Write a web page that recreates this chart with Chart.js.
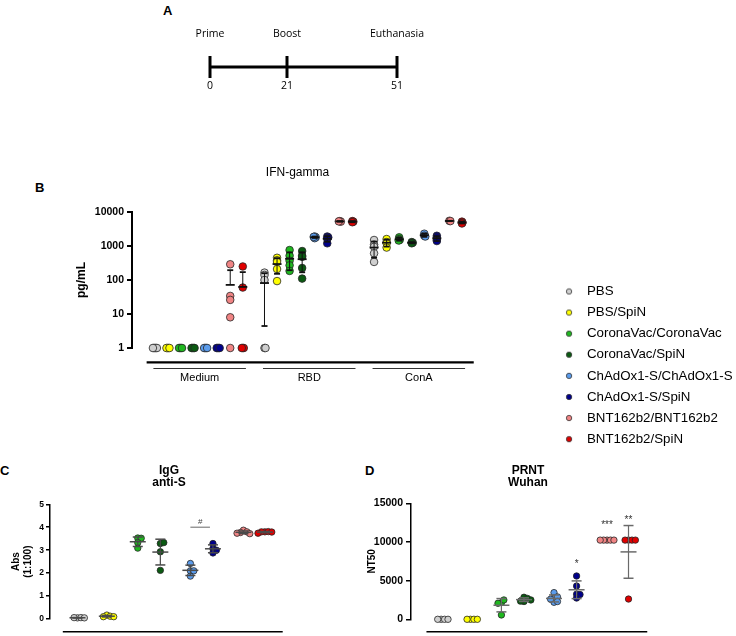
<!DOCTYPE html>
<html>
<head>
<meta charset="utf-8">
<title>Vaccine groups</title>
<script src="https://cdn.jsdelivr.net/npm/chart.js@4.4.1/dist/chart.umd.min.js"></script>
<style>
  html, body { margin:0; padding:0; background:#fff; }
  body { width:736px; height:636px; position:relative; overflow:hidden; }
  canvas { position:absolute; }
  .tag { position:absolute; font:bold 13px "Liberation Sans", Arial, sans-serif; line-height:13px; color:#000; }
</style>
</head>
<body>
<div class="tag" style="left:163px;top:4px">A</div>
<div class="tag" style="left:35px;top:181px">B</div>
<div class="tag" style="left:0px;top:464px">C</div>
<div class="tag" style="left:365px;top:464px">D</div>
<canvas id="cA" width="736" height="110" style="left:0;top:0"></canvas>
<canvas id="cB" width="480" height="240" style="left:0;top:160px"></canvas>
<canvas id="cL" width="420" height="200" style="left:550px;top:277px"></canvas>
<canvas id="cC" width="300" height="176" style="left:0;top:460px"></canvas>
<canvas id="cD" width="300" height="176" style="left:360px;top:460px"></canvas>
<script>
/***** data *****/
const GROUPS = ["PBS","PBS/SpiN","CoronaVac/CoronaVac","CoronaVac/SpiN",
  "ChAdOx1-S/ChAdOx1-S","ChAdOx1-S/SpiN","BNT162b2/BNT162b2","BNT162b2/SpiN"];
const COLORS = ["#cfcfcf","#ffff00","#1fb81f","#0b5a12","#5b9cec","#00008a","#f08484","#e00000"];

// A - timeline (days)
const TL_DAYS = [0, 21, 51];
const TL_EVENTS = ["Prime", "Boost", "Euthanasia"];

// B - IFN-gamma, pg/mL, one list per group
const STIMULI = ["Medium", "RBD", "ConA"];
const IFN_MEDIUM = [[1,1,1,1,1],[1,1,1,1],[1,1,1,1],[1,1,1,1],[1,1,1,1],[1,1,1,1],[290,34,26,8,1],[250,60,1,1,1]];
const IFN_RBD = [[165,140,100,1,1],[450,380,340,210,93],[760,520,370,270,185],[710,520,480,225,110],
  [1900,1800,1700,1850],[1900,1800,1650,1200],[5400,5200,5300],[5400,5200,5000]];
const IFN_CONA = [[1500,1100,950,610,340],[1600,1300,1200,900],[1800,1600,1500,1450],[1300,1250,1200],
  [2300,2000,1900],[2000,1800,1500,1400],[5500,5400],[5200,4900,4600]];
const IFN_TICKS = [1, 10, 100, 1000, 10000];

// C - IgG anti-S, Abs (1:100)
const IGG = [[0.05,0.06,0.06,0.05],[0.17,0.12,0.1,0.1],[3.53,3.52,3.33,3.09],[3.29,3.33,2.93,2.12],
  [2.42,1.87,2.1,2.1],[3.29,3.07,3.0,2.88],[3.87,3.80,3.77,3.74,3.72],[3.80,3.81,3.80,3.79,3.74]];
const IGG_TICKS = [0, 1, 2, 3, 4, 5];
const IGG_MARK = "#";          // between ChAdOx1-S/ChAdOx1-S and ChAdOx1-S/SpiN
const IGG_MARK_PAIR = [4, 5];
const IGG_MARK_Y = 4.0;

// D - PRNT Wuhan, NT50
const PRNT = [[0,0,0,0],[0,0,0,0],[2150,2500,2070,560],[2300,2850,2700,2350,2500],
  [2200,3450,2750,2900,2300,2600],[5600,4300,3250,3200,2750],
  [10240,10240,10240,10240,10240],[10240,10240,10240,10240,2620]];
const PRNT_TICKS = [0, 5000, 10000, 15000];
const PRNT_SIG = ["", "", "", "", "", "*", "***", "**"];
const PRNT_SIG_Y = [0, 0, 0, 0, 0, 7450, 12550, 13200];

/***** layout *****/
const FONT = '"Liberation Sans", Arial, sans-serif';
const B_BLOCK = 8.73;                       // gap between stimulus blocks (group units)
const B_UNIT = 12.6, B_C0 = 155;            // px per group, first group centre (px)
const GX = [0, 1.3, 2.67, 3.67, 5, 6, 7.35, 8.3];  // group centres in C and D
const CD_UNIT = 23;

/***** helpers *****/
function meanSd(a){
  const m = a.reduce((s,v)=>s+v,0)/a.length;
  const sd = a.length > 1 ? Math.sqrt(a.reduce((s,v)=>s+(v-m)**2,0)/(a.length-1)) : 0;
  return [m, sd];
}
// simple beeswarm: offsets (in x units) so dots do not sit on each other
function swarm(vals, toPx, minD, unit){
  const placed = [];
  return vals.map(v => {
    const y = toPx(v);
    let off = 0;
    for(let k = 0; k < 400; k++){
      const c = k === 0 ? 0 : (k % 2 ? 1 : -1) * Math.ceil(k/2) * 0.5;
      if(placed.every(p => Math.hypot(p.x - c, p.y - y) >= minD - 1e-6)){ off = c; break; }
    }
    placed.push({x: off, y});
    return off / unit;
  });
}
function buildSets(groups, xs, colors, cfg){
  const pts = [], whisk = [], caps = [], means = [];
  groups.forEach((vals, g) => {
    const offs = swarm(vals, cfg.toPx, cfg.minD, cfg.unit);
    pts.push({
      data: vals.map((v,i)=>({x: xs[g] + offs[i], y: v})),
      backgroundColor: colors[g], borderColor: "#262626", borderWidth: 0.8,
      pointRadius: cfg.r, pointHoverRadius: cfg.r, clip: false, order: 1
    });
    const [m, sd] = meanSd(vals);
    if(sd === 0) return;
    const hi = m + sd, lo = m - sd;
    const low = lo > cfg.floor ? lo : m;
    whisk.push({x: xs[g], y: low}, {x: xs[g], y: hi}, {x: xs[g], y: null});
    caps.push({x: xs[g], y: hi});
    if(lo > cfg.floor) caps.push({x: xs[g], y: lo});
    means.push({x: xs[g], y: m});
  });
  const b = cfg.bar;
  return pts.concat([
    { data: whisk, showLine: true, borderColor: b.color, borderWidth: b.w, pointRadius: 0, clip: false, order: 0 },
    { data: caps, pointStyle: "line", pointRadius: b.cap, borderColor: b.color, borderWidth: b.lw, clip: false, order: 0 },
    { data: means, pointStyle: "line", pointRadius: b.mean, borderColor: b.color, borderWidth: b.lw, clip: false, order: 0 }
  ]);
}
function txt(ctx, s, x, y, font, color, align){
  ctx.font = font; ctx.fillStyle = color || "#000";
  ctx.textAlign = align || "center"; ctx.textBaseline = "middle";
  ctx.fillText(s, x, y);
}
function hline(ctx, x1, x2, y, w, color){
  ctx.beginPath(); ctx.moveTo(x1, y); ctx.lineTo(x2, y);
  ctx.lineWidth = w; ctx.strokeStyle = color || "#000"; ctx.stroke();
}
function yAxis(width, fontSize, tickLen, pad, borderW, title, titleSize, titlePad){
  return {
    afterFit: s => { s.width = width; },
    ticks: { color: "#000", padding: pad, font: { family: FONT, size: fontSize, weight: "bold" }, callback: v => String(v) },
    grid: { drawOnChartArea: false, drawTicks: true, tickLength: tickLen, color: "#000", lineWidth: borderW },
    border: { display: true, color: "#000", width: borderW },
    title: { display: true, text: title, color: "#000", padding: { top: titlePad, bottom: 0 },
      font: { family: FONT, size: titleSize, weight: "bold", lineHeight: 1.2 } }
  };
}
const base = { responsive: false, animation: false, events: [] };
const noPlug = { legend: { display: false }, tooltip: { enabled: false } };

/***** A: timeline *****/
new Chart(document.getElementById("cA"), {
  type: "scatter",
  data: { datasets: [{
    data: TL_DAYS.map(d => ({x: d, y: 0})),
    showLine: true, borderColor: "#000", borderWidth: 3,
    pointStyle: "line", pointRotation: 90, rotation: 90, pointRadius: 11,
    pointBorderWidth: 3, pointBorderColor: "#000", clip: false
  }]},
  options: { ...base,
    layout: { padding: { left: 210, right: 736 - 397, top: 56, bottom: 32 } },
    scales: { x: { type: "linear", display: false, min: 0, max: 51 }, y: { display: false, min: -1, max: 1 } },
    plugins: noPlug },
  plugins: [{ id: "tl", afterDraw(ch){
    const { ctx, scales: { x } } = ch;
    TL_DAYS.forEach((d, i) => {
      const px = x.getPixelForValue(d);
      txt(ctx, TL_EVENTS[i], px, 34, '10.5px "Open Sans"');
      txt(ctx, String(d), px, 86, '10.5px "Open Sans"');
    });
  }}]
});

/***** B: IFN-gamma *****/
const bGroups = [IFN_MEDIUM, IFN_RBD, IFN_CONA].flat(1);
const bX = [], bCol = [];
STIMULI.forEach((s, si) => GROUPS.forEach((g, gi) => { bX.push(si * B_BLOCK + gi); bCol.push(COLORS[gi]); }));
const bSets = buildSets(bGroups, bX, bCol, {
  toPx: v => Math.log10(Math.max(v, 1)) * 34, minD: 1, unit: B_UNIT, r: 3.8, floor: 0,
  bar: { color: "#111", w: 1, lw: 1.8, cap: 3, mean: 4.5 }
});
new Chart(document.getElementById("cB"), {
  type: "scatter",
  data: { datasets: bSets },
  options: { ...base,
    layout: { padding: { left: 0, right: 5, top: 52, bottom: 52 } },
    scales: {
      x: { type: "linear", display: false, min: (132 - B_C0) / B_UNIT, max: (475 - B_C0) / B_UNIT },
      y: { type: "logarithmic", min: 1, max: 10000,
        afterBuildTicks: s => { s.ticks = IFN_TICKS.map(v => ({ value: v })); },
        ...yAxis(132, 10.5, 5, 3, 2, "pg/mL", 12, 74.5) }
    },
    plugins: noPlug },
  plugins: [{ id: "decorB", afterDraw(ch){
    const { ctx, scales: { x } } = ch;
    ctx.save();
    hline(ctx, x.getPixelForValue(-0.66), x.getPixelForValue(25.4), 202.3, 2.2);
    STIMULI.forEach((s, i) => {
      const a = x.getPixelForValue(i * B_BLOCK - 0.12), b = x.getPixelForValue(i * B_BLOCK + 7.25);
      hline(ctx, a, b, 208.5, 1, "#333");
      txt(ctx, s, (a + b) / 2, 217.5, "11px " + FONT);
    });
    txt(ctx, "IFN-gamma", 297.5, 12.5, "12px " + FONT);
    ctx.restore();
  }}]
});

/***** legend *****/
const dots = COLORS.map(c => {
  const cv = document.createElement("canvas");
  cv.width = 8; cv.height = 8;
  const g = cv.getContext("2d");
  g.beginPath(); g.arc(4, 4, 2.7, 0, Math.PI * 2);
  g.fillStyle = c; g.fill(); g.lineWidth = 0.8; g.strokeStyle = "#333"; g.stroke();
  return cv;
});
new Chart(document.getElementById("cL"), {
  type: "scatter",
  data: { datasets: GROUPS.map((g, i) => ({ label: g, data: [], backgroundColor: COLORS[i] })) },
  options: { ...base,
    layout: { padding: 0 },
    scales: { x: { display: false }, y: { display: false } },
    plugins: {
      tooltip: { enabled: false },
      legend: { position: "left", align: "start", maxWidth: 300,
        labels: { usePointStyle: true, pointStyleWidth: 22.5, boxHeight: 5, padding: 7.8, color: "#000",
          font: { family: FONT, size: 13.3 },
          generateLabels: () => GROUPS.map((g, i) => ({ text: g, pointStyle: dots[i], fillStyle: COLORS[i],
            strokeStyle: "#333", lineWidth: 0.8, hidden: false, datasetIndex: i, fontColor: "#000" })) } }
    } }
});

/***** C: IgG anti-S *****/
const barCD = { color: "#4a4a4a", w: 1.2, lw: 1.5, cap: 5, mean: 8 };
new Chart(document.getElementById("cC"), {
  type: "scatter",
  data: { datasets: buildSets(IGG, GX, COLORS, { toPx: v => v * 23, minD: 3.5, unit: CD_UNIT, r: 3.2, floor: -Infinity, bar: barCD }) },
  options: { ...base,
    layout: { padding: { left: 0, right: 5, top: 44.3, bottom: 17 } },
    scales: {
      x: { type: "linear", display: false, min: (50 - 78) / CD_UNIT, max: (295 - 78) / CD_UNIT },
      y: { type: "linear", min: 0, max: 5,
        afterBuildTicks: s => { s.ticks = IGG_TICKS.map(v => ({ value: v })); },
        ...yAxis(50, 8.5, 4, 2, 1.5, ["Abs", "(1:100)"], 10, 10) }
    },
    plugins: noPlug },
  plugins: [{ id: "decorC", afterDraw(ch){
    const { ctx, scales: { x, y } } = ch;
    ctx.save();
    hline(ctx, x.getPixelForValue(-0.65), x.getPixelForValue(9.09), 171.7, 1.6);
    txt(ctx, "IgG", 169, 11, "bold 12px " + FONT);
    txt(ctx, "anti-S", 169, 23, "bold 12px " + FONT);
    const a = x.getPixelForValue(GX[IGG_MARK_PAIR[0]]), b = x.getPixelForValue(GX[IGG_MARK_PAIR[1]]) - 3;
    const yy = y.getPixelForValue(IGG_MARK_Y);
    hline(ctx, a, b, yy, 1.3, "#8a8a8a");
    txt(ctx, IGG_MARK, (a + b) / 2, yy - 5, "8px " + FONT, "#444");
    ctx.restore();
  }}]
});

/***** D: PRNT Wuhan *****/
new Chart(document.getElementById("cD"), {
  type: "scatter",
  data: { datasets: buildSets(PRNT, GX, COLORS, { toPx: v => v * 38.67 / 5000, minD: 3.5, unit: CD_UNIT, r: 3.2, floor: -Infinity, bar: { ...barCD, color: "#6a6a6a" } }) },
  options: { ...base,
    layout: { padding: { left: 0, right: 5, top: 43.3, bottom: 16.7 } },
    scales: {
      x: { type: "linear", display: false, min: (51 - 81.7) / CD_UNIT, max: (295 - 81.7) / CD_UNIT },
      y: { type: "linear", min: 0, max: 15000,
        afterBuildTicks: s => { s.ticks = PRNT_TICKS.map(v => ({ value: v })); },
        ...yAxis(51, 10.5, 5, 3, 1.5, "NT50", 10, 6) }
    },
    plugins: noPlug },
  plugins: [{ id: "decorD", afterDraw(ch){
    const { ctx, scales: { x, y } } = ch;
    ctx.save();
    hline(ctx, x.getPixelForValue(-0.65), x.getPixelForValue(9.13), 171.7, 1.6);
    txt(ctx, "PRNT", 168, 11, "bold 12px " + FONT);
    txt(ctx, "Wuhan", 168, 23, "bold 12px " + FONT);
    PRNT_SIG.forEach((s, i) => {
      if(!s) return;
      txt(ctx, s, x.getPixelForValue(GX[i]), y.getPixelForValue(PRNT_SIG_Y[i]) + 3, "10px " + FONT, "#333");
    });
    ctx.restore();
  }}]
});
</script>
</body>
</html>
